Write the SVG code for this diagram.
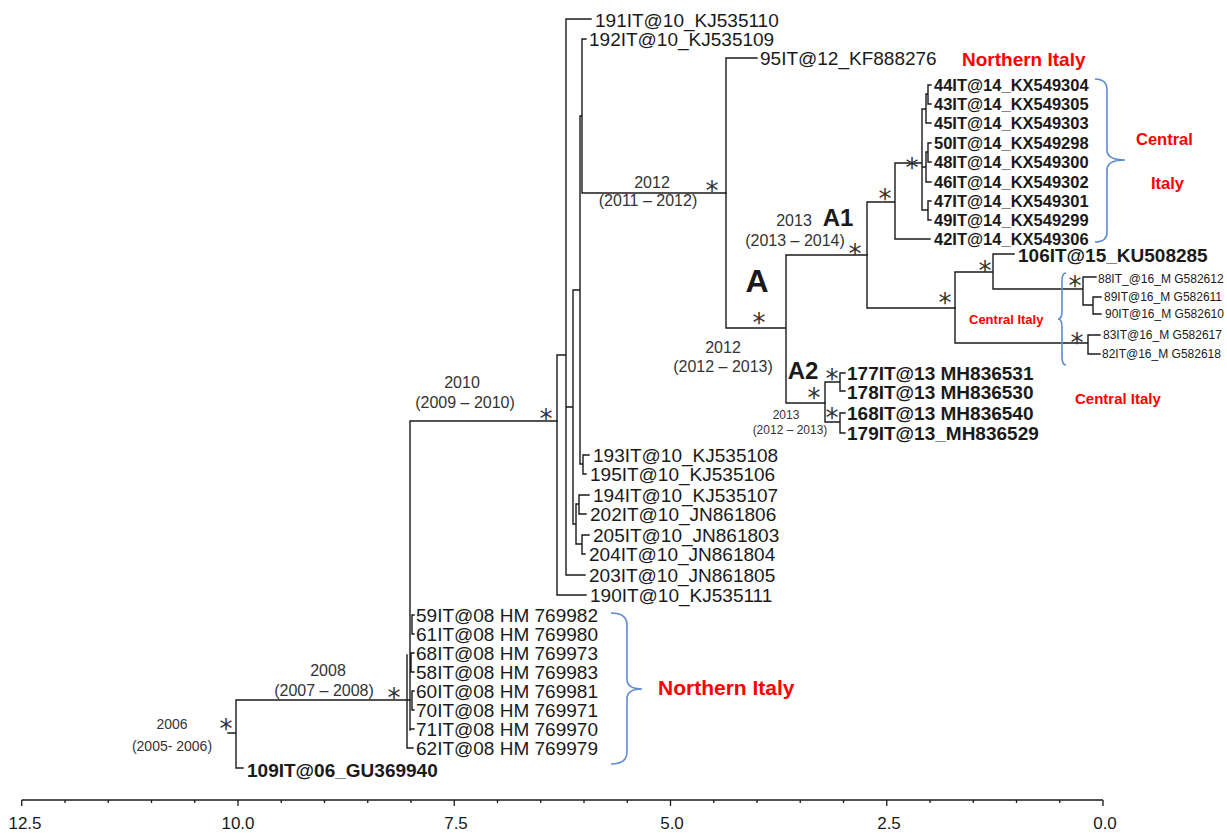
<svg xmlns="http://www.w3.org/2000/svg" width="1227" height="833" viewBox="0 0 1227 833">
<style>
.br{stroke:#1a1a1a;stroke-width:1.4;fill:none;stroke-linecap:square}
.bk{stroke:#5b8bd0;stroke-width:1.6;fill:none}
.ax{stroke:#1a1a1a;stroke-width:1.3;fill:none}
text{font-family:"Liberation Sans",Arial,sans-serif;fill:#1a1a1a}
.lf{font-size:19px}
.lb{font-size:19px;font-weight:bold}
.l14{font-size:16.5px;font-weight:bold}
.l16{font-size:12px}
.yr{font-size:16px;text-anchor:middle;fill:#333}
.ys{font-size:12px;text-anchor:middle;fill:#333}
.y14{font-size:14px;text-anchor:middle;fill:#333}
.cl{font-weight:bold;text-anchor:middle}
.st{font-family:"DejaVu Sans",sans-serif;font-size:26px;text-anchor:middle;fill:#333}
.red{fill:#f00;font-weight:bold}
.tk{font-size:17px;text-anchor:middle;fill:#1a1a1a}
</style>
<rect width="1227" height="833" fill="#fff"/>

<g id="connectors">
<path class="br" d="M228 733H236M236 700V768M236 700H410M236 768H243"/>
<path class="br" d="M410 421V730M410 421H557M407 655V748H413M414 615H412V634H414M414 653H411V672H414M414 691H412V710H414M410 729H414"/>
<path class="br" d="M557 355V595M557 355H566M557 595H586M566 19V575M566 19H591M566 575H585M566 407H573M573 290V524M573 290H580M573 524H576M576 504V544M576 504H579M576 544H582M579 495V514M579 495H589M579 514H586M582 535V554M582 535H589M582 554H585M580 116V464M580 116H582M580 464H583M583 455V474M583 455H589M583 474H586M582 39V193M582 39H586M582 193H726"/>
<path class="br" d="M726 58V328M726 58H757M726 328H786M786 255V403M786 255H867M786 403H825"/>
<path class="br" d="M867 202V308M867 202H895M867 308H955M895 163V239M895 163H922M895 239H930M922 109V210M922 109H926M922 167H926M922 210H928M926 94V123M926 94H928M926 123H931M928 85V104M928 85H931M928 104H931M926 152V182M926 152H928M926 182H931M928 143V162M928 143H931M928 162H931M928 201V220M928 201H931M928 220H931"/>
<path class="br" d="M955 272V343M955 272H993M955 343H1088M993 254V289M993 254H1014M993 289H1083M1083 277V305M1083 277H1096M1083 305H1093M1093 297V314M1093 297H1101M1093 314H1101M1088 335V354M1088 335H1100M1088 354H1100"/>
<path class="br" d="M825 382V422M825 382H840M825 422H840M840 373V391M840 373H845M840 391H845M840 413V433M840 413H845M840 433H845"/>
</g>

<g id="brackets">
<path class="bk" d="M1095 79Q1107 79 1107 90V150Q1107 160 1125 160Q1107 160 1107 170V232Q1107 242 1095 242"/>
<path class="bk" d="M1066 273Q1062 273 1062 281V311Q1062 319 1058 319Q1062 319 1062 327V357Q1062 365 1066 365"/>
<path class="bk" d="M611 613Q627 613 627 625V679Q627 689 642 689Q627 689 627 699V752Q627 764 611 764"/>
</g>

<g id="node-root">
<text class="y14" x="172" y="729">2006</text>
<text class="y14" x="172" y="751">(2005- 2006)</text>
<text class="st" x="226" y="738">*</text>
</g>
<g id="node-2008">
<text class="yr" x="328" y="676">2008</text>
<text class="yr" x="324" y="696">(2007 – 2008)</text>
<text class="st" x="394" y="707">*</text>
</g>
<g id="node-2010">
<text class="yr" x="462" y="388">2010</text>
<text class="yr" x="465" y="408">(2009 – 2010)</text>
<text class="st" x="546" y="428">*</text>
</g>
<g id="node-2012">
<text class="yr" x="652" y="188">2012</text>
<text class="yr" x="648" y="206">(2011 – 2012)</text>
<text class="st" x="712" y="200">*</text>
</g>
<g id="node-A">
<text class="cl" x="757" y="292" font-size="32">A</text>
<text class="yr" x="723" y="353">2012</text>
<text class="yr" x="723" y="372">(2012 – 2013)</text>
<text class="st" x="759" y="332">*</text>
</g>
<g id="node-A1">
<text class="yr" x="794" y="226">2013</text>
<text class="cl" x="838" y="226" font-size="24">A1</text>
<text class="yr" x="795" y="246">(2013 – 2014)</text>
<text class="st" x="855" y="263">*</text>
</g>
<g id="node-A2">
<text class="cl" x="803" y="379" font-size="24">A2</text>
<text class="ys" x="786" y="419">2013</text>
<text class="ys" x="790" y="434">(2012 – 2013)</text>
<text class="st" x="814" y="407">*</text>
</g>
<g id="stars-inner">
<text class="st" x="885" y="208">*</text>
<text class="st" x="912" y="177">*</text>
<text class="st" x="945" y="312">*</text>
<text class="st" x="985" y="280">*</text>
<text class="st" x="1075" y="295">*</text>
<text class="st" x="1077" y="352">*</text>
<text class="st" x="832" y="388">*</text>
<text class="st" x="832" y="427">*</text>
</g>

<g id="leaves-2010">
<g id="l191"><text class="lf" x="595" y="27">191IT@10_KJ535110</text></g>
<g id="l192"><text class="lf" x="589" y="46">192IT@10_KJ535109</text></g>
<g id="l193"><text class="lf" x="593" y="462">193IT@10_KJ535108</text></g>
<g id="l195"><text class="lf" x="590" y="481">195IT@10_KJ535106</text></g>
<g id="l194"><text class="lf" x="593" y="502">194IT@10_KJ535107</text></g>
<g id="l202"><text class="lf" x="590" y="521">202IT@10_JN861806</text></g>
<g id="l205"><text class="lf" x="593" y="542">205IT@10_JN861803</text></g>
<g id="l204"><text class="lf" x="589" y="561">204IT@10_JN861804</text></g>
<g id="l203"><text class="lf" x="589" y="582">203IT@10_JN861805</text></g>
<g id="l190"><text class="lf" x="590" y="602">190IT@10_KJ535111</text></g>
</g>
<g id="l95"><text class="lf" x="760" y="65">95IT@12_KF888276</text></g>

<g id="leaves-2014">
<g id="l44"><text class="l14" x="934" y="91">44IT@14_KX549304</text></g>
<g id="l43"><text class="l14" x="934" y="110">43IT@14_KX549305</text></g>
<g id="l45"><text class="l14" x="934" y="129">45IT@14_KX549303</text></g>
<g id="l50"><text class="l14" x="934" y="149">50IT@14_KX549298</text></g>
<g id="l48"><text class="l14" x="934" y="168">48IT@14_KX549300</text></g>
<g id="l46"><text class="l14" x="934" y="188">46IT@14_KX549302</text></g>
<g id="l47"><text class="l14" x="934" y="207">47IT@14_KX549301</text></g>
<g id="l49"><text class="l14" x="934" y="226">49IT@14_KX549299</text></g>
<g id="l42"><text class="l14" x="934" y="245">42IT@14_KX549306</text></g>
</g>

<g id="l106"><text class="lb" x="1018" y="262" font-size="19.5">106IT@15_KU508285</text></g>
<g id="leaves-2016">
<g id="l88"><text class="l16" x="1098" y="283">88IT_@16_M G582612</text></g>
<g id="l89"><text class="l16" x="1104" y="301">89IT@16_M G582611</text></g>
<g id="l90"><text class="l16" x="1105" y="318">90IT@16_M G582610</text></g>
<g id="l83"><text class="l16" x="1103" y="339">83IT@16_M G582617</text></g>
<g id="l82"><text class="l16" x="1102" y="358">82IT@16_M G582618</text></g>
</g>

<g id="leaves-2013">
<g id="l177"><text class="lb" x="847" y="380">177IT@13 MH836531</text></g>
<g id="l178"><text class="lb" x="847" y="399">178IT@13 MH836530</text></g>
<g id="l168"><text class="lb" x="847" y="420">168IT@13 MH836540</text></g>
<g id="l179"><text class="lb" x="847" y="440">179IT@13_MH836529</text></g>
</g>

<g id="leaves-2008">
<g id="l59"><text class="lf" x="416" y="622">59IT@08 HM 769982</text></g>
<g id="l61"><text class="lf" x="416" y="641">61IT@08 HM 769980</text></g>
<g id="l68"><text class="lf" x="416" y="660">68IT@08 HM 769973</text></g>
<g id="l58"><text class="lf" x="416" y="679">58IT@08 HM 769983</text></g>
<g id="l60"><text class="lf" x="416" y="698">60IT@08 HM 769981</text></g>
<g id="l70"><text class="lf" x="416" y="717">70IT@08 HM 769971</text></g>
<g id="l71"><text class="lf" x="416" y="736">71IT@08 HM 769970</text></g>
<g id="l62"><text class="lf" x="416" y="755">62IT@08 HM 769979</text></g>
</g>
<g id="l109"><text class="lb" x="247" y="777" font-size="19.5">109IT@06_GU369940</text></g>

<g id="regions">
<text class="red" x="962" y="66" font-size="19">Northern Italy</text>
<text class="red" x="1136" y="145" font-size="16.5">Central</text>
<text class="red" x="1151" y="189" font-size="16.5">Italy</text>
<text class="red" x="969" y="324" font-size="13">Central Italy</text>
<text class="red" x="1075" y="404" font-size="15">Central Italy</text>
<text class="red" x="658" y="695" font-size="21">Northern Italy</text>
</g>

<g id="axis">
<path class="ax" d="M21.75 800H1103"/>
<path class="ax" d="M21.75 800v6M238 800v6M454.25 800v6M670.5 800v6M886.75 800v6M1103 800v6M65 800v3M108.25 800v3M151.5 800v3M194.75 800v3M281.25 800v3M324.5 800v3M367.75 800v3M411 800v3M497.5 800v3M540.75 800v3M584 800v3M627.25 800v3M713.75 800v3M757 800v3M800.25 800v3M843.5 800v3M930 800v3M973.25 800v3M1016.5 800v3M1059.75 800v3"/>
<text class="tk" x="25" y="829">12.5</text>
<text class="tk" x="238" y="829">10.0</text>
<text class="tk" x="456" y="829">7.5</text>
<text class="tk" x="672" y="829">5.0</text>
<text class="tk" x="889" y="829">2.5</text>
<text class="tk" x="1105" y="829">0.0</text>
</g>
</svg>
